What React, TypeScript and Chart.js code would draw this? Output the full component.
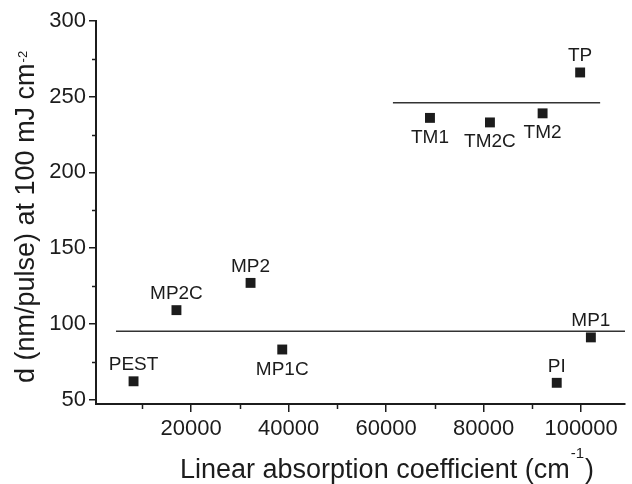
import React, { useEffect, useRef } from 'react';
import { Chart, registerables } from 'chart.js';

Chart.register(...registerables);

const sampleNames = ['PEST', 'MP2C', 'MP2', 'MP1C', 'PI', 'MP1', 'TM1', 'TM2C', 'TM2', 'TP'];
const absorption = [8200, 17000, 32200, 38700, 95000, 102000, 69000, 81300, 92100, 99800];
const ablationDepth = [62, 109, 127, 83, 61, 91, 236, 233, 239, 266];
const labelSide = ['above', 'above', 'above', 'below', 'above', 'above', 'below', 'below', 'below', 'above'];

const lowFitX = [4600, 109000];
const lowFitY = [95, 95];
const highFitX = [61400, 103900];
const highFitY = [246, 246];

const xTicks = [20000, 40000, 60000, 80000, 100000];
const xMinorTicks = [10000, 30000, 50000, 70000, 90000];
const yTicks = [50, 100, 150, 200, 250, 300];
const yMinorTicks = [75, 125, 175, 225, 275];

const FONT = '"Liberation Sans", Arial, Helvetica, sans-serif';
const INK = '#1c1c1c';

const annotate = {
  id: 'annotate',
  afterDraw(chart: any) {
    const ctx = chart.ctx as CanvasRenderingContext2D;
    const xs = chart.scales.x;
    const ys = chart.scales.y;
    const area = chart.chartArea;
    ctx.save();
    // minor ticks
    ctx.strokeStyle = INK;
    ctx.lineWidth = 1.5;
    ctx.beginPath();
    xMinorTicks.forEach((v) => {
      const px = Math.round(xs.getPixelForValue(v)) + 0.5;
      ctx.moveTo(px, area.bottom);
      ctx.lineTo(px, area.bottom + 5);
    });
    yMinorTicks.forEach((v) => {
      const py = Math.round(ys.getPixelForValue(v)) + 0.5;
      ctx.moveTo(area.left, py);
      ctx.lineTo(area.left - 4, py);
    });
    ctx.stroke();

    // point labels
    const meta = chart.getDatasetMeta(0);
    ctx.fillStyle = INK;
    ctx.font = `19px ${FONT}`;
    ctx.textAlign = 'center';
    ctx.textBaseline = 'alphabetic';
    meta.data.forEach((pt: any, i: number) => {
      const above = labelSide[i] === 'above';
      ctx.fillText(sampleNames[i], pt.x, above ? pt.y - 11 : pt.y + 25);
    });

    // x title with superscript
    ctx.textAlign = 'left';
    const xMain = 'Linear absorption coefficient (cm';
    let tx = 180;
    const ty = 478;
    ctx.font = `27px ${FONT}`;
    ctx.fillText(xMain, tx, ty);
    tx += ctx.measureText(xMain).width + 1;
    ctx.font = `15px ${FONT}`;
    ctx.fillText('-1', tx, ty - 20);
    tx += ctx.measureText('-1').width + 1;
    ctx.font = `27px ${FONT}`;
    ctx.fillText(')', tx, ty);

    // y title with superscript
    ctx.translate(34, 383);
    ctx.rotate(-Math.PI / 2);
    const yMain = 'd (nm/pulse) at 100 mJ cm';
    ctx.font = `27px ${FONT}`;
    ctx.fillText(yMain, 0, 0);
    const w = ctx.measureText(yMain).width + 1;
    ctx.font = `13px ${FONT}`;
    ctx.fillText('-2', w, -7);
    ctx.restore();
  },
};

export default function App() {
  const ref = useRef<HTMLCanvasElement | null>(null);
  useEffect(() => {
    if (!ref.current) return;
    const points = absorption.map((x, i) => ({ x, y: ablationDepth[i] }));
    const low = lowFitX.map((x, i) => ({ x, y: lowFitY[i] }));
    const high = highFitX.map((x, i) => ({ x, y: highFitY[i] }));
    const chart = new Chart(ref.current, {
      type: 'scatter',
      data: {
        datasets: [
          {
            data: points,
            pointStyle: 'rect',
            pointRadius: 7,
            pointHoverRadius: 7,
            backgroundColor: INK,
            borderColor: INK,
            borderWidth: 0,
            showLine: false,
          },
          {
            data: low,
            showLine: true,
            pointRadius: 0,
            borderColor: '#333',
            borderWidth: 1.5,
          },
          {
            data: high,
            showLine: true,
            pointRadius: 0,
            borderColor: '#333',
            borderWidth: 1.5,
          },
        ],
      },
      options: {
        responsive: false,
        animation: false,
        events: [],
        layout: { padding: { left: 0, top: 21, right: 1, bottom: 0 } },
        plugins: { legend: { display: false }, tooltip: { enabled: false } },
        scales: {
          x: {
            type: 'linear',
            min: 500,
            max: 109000,
            afterBuildTicks: (s: any) => {
              s.ticks = xTicks.map((value) => ({ value }));
            },
            afterFit: (s: any) => {
              s.height = 80;
            },
            ticks: {
              color: INK,
              font: { family: FONT, size: 22 },
              padding: 4,
              maxRotation: 0,
              autoSkip: false,
              callback: (v: any) => String(v),
            },
            grid: {
              display: true,
              drawOnChartArea: false,
              drawTicks: true,
              tickLength: 8,
              color: INK,
              lineWidth: 1.5,
            },
            border: { display: true, color: INK, width: 2 },
          },
          y: {
            type: 'linear',
            min: 47,
            max: 300,
            afterBuildTicks: (s: any) => {
              s.ticks = yTicks.map((value) => ({ value }));
            },
            afterFit: (s: any) => {
              s.width = 96;
            },
            ticks: {
              color: INK,
              font: { family: FONT, size: 22 },
              padding: 3,
              autoSkip: false,
              callback: (v: any) => String(v),
            },
            grid: {
              display: true,
              drawOnChartArea: false,
              drawTicks: true,
              tickLength: 7,
              color: INK,
              lineWidth: 1.5,
            },
            border: { display: true, color: INK, width: 2 },
          },
        },
      },
      plugins: [annotate],
    });
    return () => chart.destroy();
  }, []);
  return (
    <div style={{ position: 'fixed', left: 0, top: 0, width: 632, height: 484, background: '#fff' }}>
      <canvas ref={ref} width={632} height={484} style={{ display: 'block' }} />
    </div>
  );
}
